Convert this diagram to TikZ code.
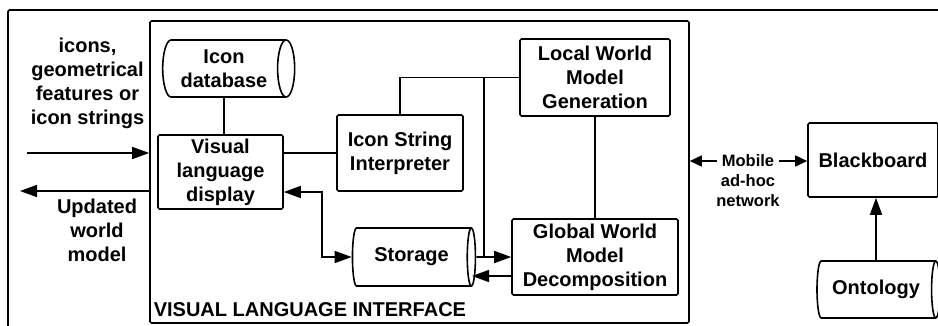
\documentclass[tikz,border=0pt]{standalone}
\usepackage{fontspec}
\setmainfont{Liberation Sans}
\usetikzlibrary{shapes.geometric,arrows.meta,calc}
\begin{document}
\begin{tikzpicture}[x=1pt,y=-1pt, line width=1.6pt,
  bigfont/.style={font=\bfseries\fontsize{20}{24}\selectfont},
  box/.style={draw, rounded corners=1.5pt, inner sep=2pt, align=center, bigfont},
  cyl/.style={draw, cylinder, shape border rotate=0, shape aspect=0.45, align=center, bigfont, inner sep=0pt},
  lbl/.style={align=center, bigfont, inner sep=0pt},
  small/.style={align=center, font=\bfseries\fontsize{16.5}{20}\selectfont, inner sep=0pt},
  arr/.style={-{Triangle[length=17pt,width=12pt]}},
  darr/.style={{Triangle[length=17pt,width=12pt]}-{Triangle[length=17pt,width=12pt]}},
  sarr/.style={-{Triangle[length=12pt,width=11pt]}}]
\useasboundingbox (0,0) rectangle (938,325);
\clip (0,0) rectangle (938,325);
% outer frame (cropped)
\draw[rounded corners=1.5pt] (8,330) -- (8,10) -- (945,10);
% visual language interface box
\node[draw, rounded corners=1.5pt, minimum width=539pt, minimum height=302pt, inner sep=0pt] (vli) at (419.5,172) {};
\node[lbl, anchor=base west] (vlit) at (153,316) {VISUAL LANGUAGE INTERFACE};
% nodes
\node[cyl, minimum height=132pt, minimum width=57pt] (idb) at (224,68.5) {Icon\\database};
\node[box, minimum width=125pt, minimum height=74pt] (vld) at (220.5,172) {Visual\\language\\display};
\node[box, minimum width=126pt, minimum height=76pt] (isi) at (400,153) {Icon String\\Interpreter};
\node[box, minimum width=150pt, minimum height=77pt] (lwm) at (595,77.5) {Local World\\Model\\Generation};
\node[box, minimum width=166pt, minimum height=76pt] (gwm) at (595,257) {Global World\\Model\\Decomposition};
\node[cyl, minimum height=123pt, minimum width=58pt] (sto) at (411.5,257) {Storage};
\node[box, minimum width=130pt, minimum height=74pt] (bb) at (873,160) {Blackboard};
\node[cyl, minimum height=123pt, minimum width=57pt] (ont) at (876,289.5) {Ontology};
% labels
\node[lbl] (intext) at (87.5,83) {icons,\\geometrical\\features or\\icon strings};
\node[lbl] (outtext) at (97,230) {Updated\\world\\model};
\node[small, inner xsep=4pt] (mob) at (748,161) {Mobile};
\node[small] (net) at (748,191) {ad-hoc\\network};
% coordinates
\coordinate (inL) at (27,153);
\coordinate (outL) at (20,191);
\coordinate (j) at (484,257);
\coordinate (k) at (322,192);
\coordinate (sin) at (472,276);
% connectors
\draw (idb.south) -- (idb.south |- vld.north);
\draw[arr] (inL) -- (inL -| vli.west);
\draw[arr] (outL -| vli.west) -- (outL);
\draw (isi.west -| vld.east) -- (isi.west);
\draw (isi.north) |- (lwm.west);
\draw (j |- lwm.west) -- (j);
\draw[arr] (sto.east) -- (gwm.west);
\draw[arr] ([yshift=-19pt]gwm.west) -- (sin);
\draw (lwm.south) -- (gwm.north);
\draw[darr] ([yshift=-20pt]vld.east) -- (k) |- (sto.west);
\draw[sarr] (mob.west) -- (mob.west -| vli.east);
\draw[sarr] (mob.east) -- (mob.east -| bb.west);
\draw[arr] (ont.north) -- (ont.north |- bb.south);
\end{tikzpicture}
\end{document}
